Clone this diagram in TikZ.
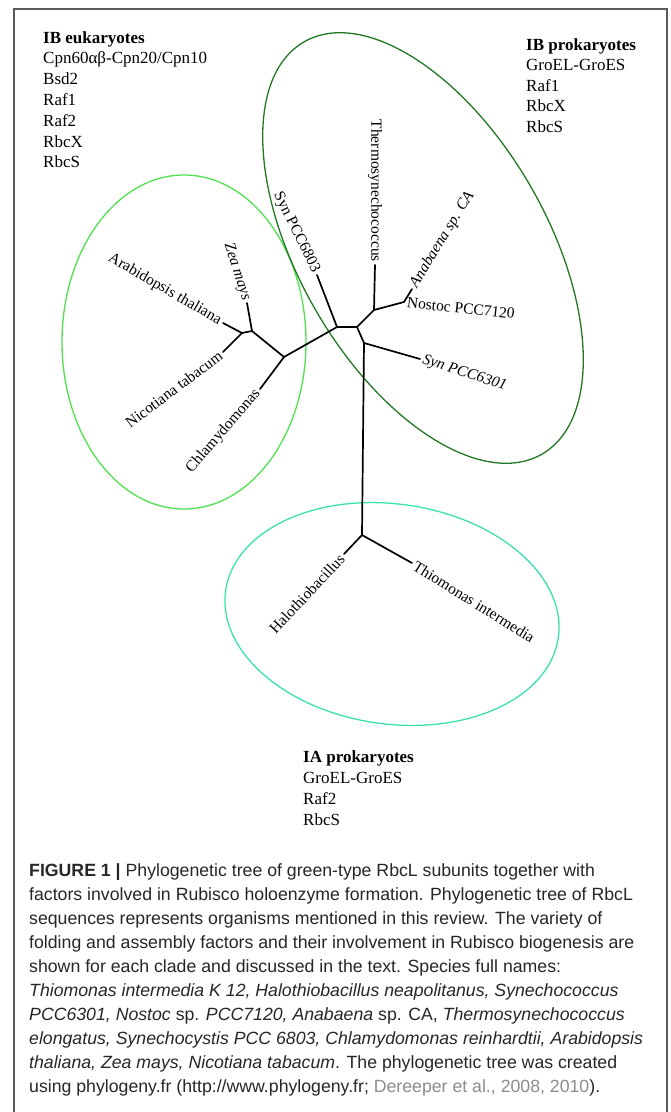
\documentclass[tikz,border=0pt]{standalone}
\usepackage{fontspec}
\setmainfont{Liberation Serif}
\newfontfamily\capfont{Liberation Sans}
\usepackage{xcolor}
\usetikzlibrary{positioning}
\definecolor{eukgreen}{RGB}{80,225,80}
\definecolor{progreen}{RGB}{35,120,35}
\definecolor{iacyan}{RGB}{60,225,175}
\definecolor{framegray}{RGB}{90,90,90}
\definecolor{refgray}{RGB}{140,140,140}
\tikzset{branch/.style={line width=1.7pt,line cap=round},
  leaf/.style={font=\fontsize{15.5}{18}\selectfont,inner sep=3pt},
  factor/.style={font=\fontsize{17}{21}\selectfont,inner sep=0pt,anchor=base west},
  captxt/.style={font=\capfont\fontsize{17.7}{24}\selectfont,inner sep=0pt,anchor=base west,text=black!85},
  clade/.style={line width=1.3pt}}

\begin{document}
\begin{tikzpicture}[x=1pt,y=-1pt]
    \useasboundingbox (0,0) rectangle (670,1112);
    \draw [framegray,line width=1.2pt] (14,1112) -- (14,9) -- (667,9) -- (667,1112);

    % clades
    \draw [clade,eukgreen] (184,342) ellipse [x radius=122pt,y radius=167pt];
    \draw [clade,progreen,rotate around={-60:(423,248)}] (423,248) ellipse [x radius=238pt,y radius=124pt];
    \draw [clade,iacyan,rotate around={-8:(392,614)}] (392,614) ellipse [x radius=168pt,y radius=110pt];

    % inner nodes
    \coordinate (a) at (337,327);
    \coordinate (b) at (357,327);
    \coordinate (c) at (374,310);
    \coordinate (d) at (404,302);
    \coordinate (e) at (364,343);
    \coordinate (r) at (362,535);
    \coordinate (f) at (284,357);
    \coordinate (g) at (252,331);
    \coordinate (h) at (242,333);

    % tips
    \coordinate (thermo) at (375,265);
    \coordinate (anab) at (412,289);
    \coordinate (s6301) at (420,359);
    \coordinate (s6803) at (317,275);
    \coordinate (zea) at (247,303);
    \coordinate (arab) at (223,323);
    \coordinate (nico) at (223,352);
    \coordinate (chlam) at (260,389);
    \coordinate (halo) at (344,554);
    \coordinate (thio) at (412,563);

    \draw [branch] (a) to [] (b);
    \draw [branch] (b) to [] (c);
    \draw [branch] (c) to [] (thermo);
    \draw [branch] (c) to [] (d);
    \draw [branch] (d) to [] (anab);
    \draw [branch] (b) to [] (e);
    \draw [branch] (e) to [] (s6301);
    \draw [branch] (e) to [] (r);
    \draw [branch] (r) to [] (halo);
    \draw [branch] (r) to [] (thio);
    \draw [branch] (a) to [] (s6803);
    \draw [branch] (a) to [] (f);
    \draw [branch] (f) to [] (chlam);
    \draw [branch] (f) to [] (g);
    \draw [branch] (g) to [] (zea);
    \draw [branch] (g) to [] (h);
    \draw [branch] (h) to [] (arab);
    \draw [branch] (h) to [] (nico);

    % leaf labels
    \node [leaf,anchor=east,rotate=-90] (lthermo) at (thermo) {Thermosynechococcus};
    \node [leaf,anchor=west,rotate=58.5] (lanab) at (anab) {\itshape Anabaena sp. CA};
    \node [leaf,anchor=west,rotate=-6] (lnostoc) at (d) {Nostoc PCC7120};
    \node [leaf,anchor=west,rotate=-18] (l6301) at (s6301) {\itshape Syn PCC6301};
    \node [leaf,anchor=east,rotate=-64] (l6803) at (s6803) {Syn PCC6803};
    \node [leaf,anchor=east,rotate=-72] (lzea) at (zea) {\itshape Zea mays};
    \node [leaf,anchor=east,rotate=-30] (larab) at (arab) {Arabidopsis thaliana};
    \node [leaf,anchor=east,rotate=37] (lnico) at (nico) {Nicotiana tabacum};
    \node [leaf,anchor=east,rotate=49] (lchlam) at (chlam) {Chlamydomonas};
    \node [leaf,anchor=east,rotate=47] (lhalo) at (halo) {Halothiobacillus};
    \node [leaf,anchor=west,rotate=-32] (lthio) at (thio) {Thiomonas intermedia};

    % factor lists
    \foreach \t [count=\i] in {{\bfseries IB eukaryotes},Cpn60αβ-Cpn20/Cpn10,Bsd2,Raf1,Raf2,RbcX,RbcS}
        \node [factor] (euk\i) at (43,{43+20.8*(\i-1)}) {\t};
    \foreach \t [count=\i] in {{\bfseries IB prokaryotes},GroEL-GroES,Raf1,RbcX,RbcS}
        \node [factor] (ibp\i) at (526,{50+20.6*(\i-1)}) {\t};
    \foreach \t [count=\i] in {{\bfseries IA prokaryotes},GroEL-GroES,Raf2,RbcS}
        \node [factor] (iap\i) at (303,{762+21*(\i-1)}) {\t};

    % caption
    \foreach \t [count=\i] in {
        {\textbf{FIGURE 1 |} Phylogenetic tree of green-type RbcL subunits together with},
        {factors involved in Rubisco holoenzyme formation. Phylogenetic tree of RbcL},
        {sequences represents organisms mentioned in this review. The variety of},
        {folding and assembly factors and their involvement in Rubisco biogenesis are},
        {shown for each clade and discussed in the text. Species full names:},
        {\textit{Thiomonas intermedia K 12, Halothiobacillus neapolitanus, Synechococcus}},
        {\textit{PCC6301, Nostoc} sp. \textit{PCC7120, Anabaena} sp. CA, \textit{Thermosynechococcus}},
        {\textit{elongatus, Synechocystis PCC 6803, Chlamydomonas reinhardtii, Arabidopsis}},
        {\textit{thaliana, Zea mays, Nicotiana tabacum}. The phylogenetic tree was created},
        {using phylogeny.fr (http://www.phylogeny.fr; \textcolor{refgray}{Dereeper et al., 2008, 2010}).}}
        \node [captxt] (cap\i) at (29,{876+24.1*(\i-1)}) {\t};
\end{tikzpicture}
\end{document}
